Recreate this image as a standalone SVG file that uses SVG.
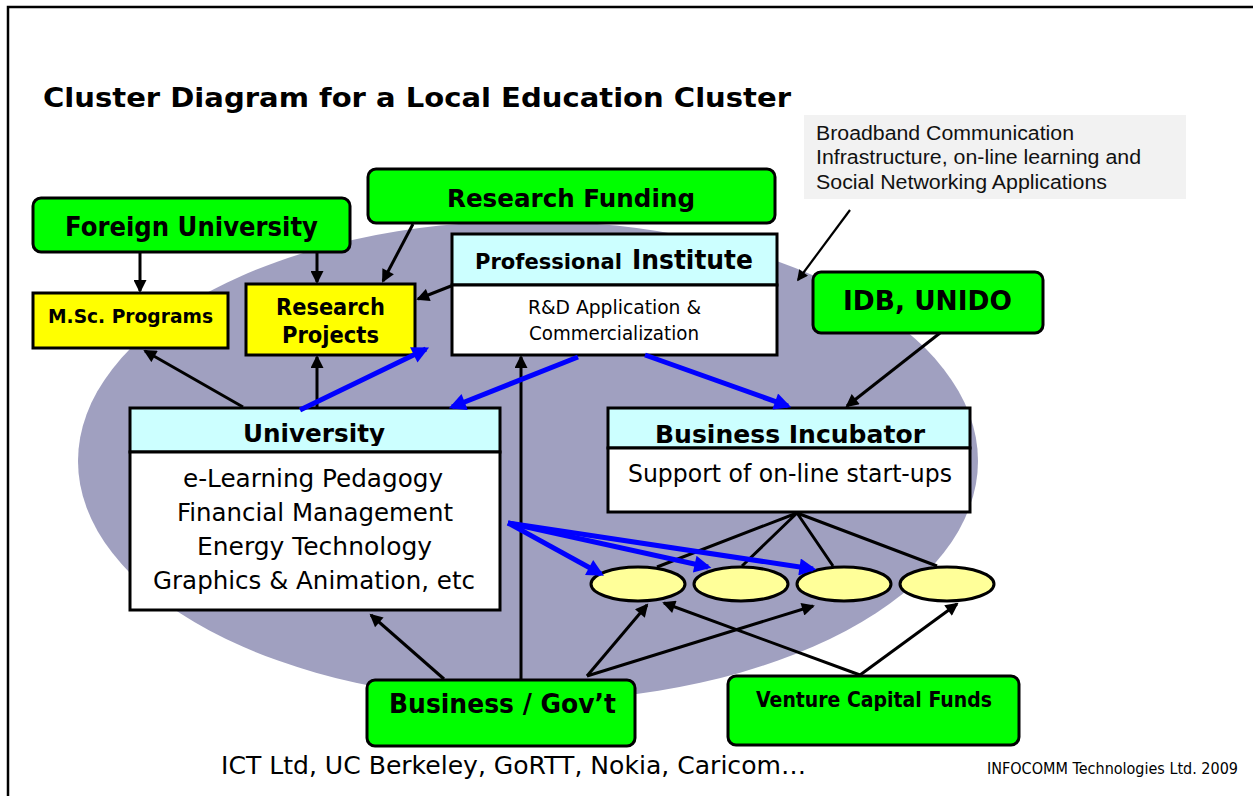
<svg xmlns="http://www.w3.org/2000/svg" width="1253" height="796" viewBox="0 0 1253 796">
  <style>
    .t { font-family: "DejaVu Sans", Verdana, sans-serif; fill: #000; }
    .b { font-weight: bold; }
    .note { font-family: "Liberation Sans", Arial, sans-serif; font-size: 20px; fill: #111; }
    .green { fill: #00FF00; stroke: #000; stroke-width: 3; }
    .yellow { fill: #FFFF00; stroke: #000; stroke-width: 3; }
    .head { fill: #CCFFFF; stroke: #000; stroke-width: 3; }
    .body { fill: #FFFFFF; stroke: #000; stroke-width: 3; }
    .pod { fill: #FFFF99; stroke: #000; stroke-width: 3; }
    .blk { stroke: #000; stroke-width: 3; fill: none; }
    .blu { stroke: #0000FF; stroke-width: 5; fill: none; }
  </style>
  <defs>
    <marker id="ah" viewBox="0 0 10 10" refX="8.5" refY="5" markerUnits="userSpaceOnUse" markerWidth="15" markerHeight="13" orient="auto">
      <path d="M0,0 L10,5 L0,10 z" fill="#000"/>
    </marker>
    <marker id="ahs" viewBox="0 0 10 10" refX="8.5" refY="5" markerUnits="userSpaceOnUse" markerWidth="13" markerHeight="11" orient="auto">
      <path d="M0,0 L10,5 L0,10 z" fill="#000"/>
    </marker>
    <marker id="ab" viewBox="0 0 10 10" refX="8" refY="5" markerUnits="userSpaceOnUse" markerWidth="20" markerHeight="17" orient="auto">
      <path d="M0,0 L10,5 L0,10 z" fill="#0000FF"/>
    </marker>
    <clipPath id="uniClip">
      <rect x="130" y="408" width="370" height="38"/>
    </clipPath>
  </defs>

  <!-- page frame -->
  <path d="M8,796 L8,7 L1253,7" fill="none" stroke="#000" stroke-width="2.5"/>

  <!-- cluster backdrop -->
  <ellipse cx="528" cy="461" rx="450" ry="240" fill="#A0A0C0"/>

  <text class="t b" x="43" y="107" font-size="27" textLength="748" lengthAdjust="spacingAndGlyphs">Cluster Diagram for a Local Education Cluster</text>

  <g id="broadband-note">
    <rect x="804" y="115" width="382" height="84" fill="#F2F2F2"/>
    <text class="note" x="816" y="140" textLength="258" lengthAdjust="spacingAndGlyphs">Broadband Communication</text>
    <text class="note" x="816" y="164" textLength="325" lengthAdjust="spacingAndGlyphs">Infrastructure, on-line learning and</text>
    <text class="note" x="816" y="189" textLength="291" lengthAdjust="spacingAndGlyphs">Social Networking Applications</text>
  </g>

  <g id="foreign-university">
    <rect class="green" x="33" y="198" width="317" height="54" rx="8"/>
    <text class="t b" x="65" y="236" font-size="26" textLength="253" lengthAdjust="spacingAndGlyphs">Foreign University</text>
  </g>

  <g id="research-funding">
    <rect class="green" x="368" y="169" width="407" height="54" rx="8"/>
    <text class="t b" x="447" y="207" font-size="25" textLength="248" lengthAdjust="spacingAndGlyphs">Research Funding</text>
  </g>

  <g id="msc-programs">
    <rect class="yellow" x="33" y="293" width="195" height="55"/>
    <text class="t b" x="48" y="323" font-size="19" textLength="165" lengthAdjust="spacingAndGlyphs">M.Sc. Programs</text>
  </g>

  <g id="research-projects">
    <rect class="yellow" x="246" y="284" width="169" height="71"/>
    <text class="t b" x="276" y="315" font-size="23" textLength="109" lengthAdjust="spacingAndGlyphs">Research</text>
    <text class="t b" x="282" y="343" font-size="23" textLength="97" lengthAdjust="spacingAndGlyphs">Projects</text>
  </g>

  <g id="professional-institute">
    <rect class="head" x="452" y="234" width="325" height="51"/>
    <rect class="body" x="452" y="285" width="325" height="70"/>
    <text class="t b" x="475" y="269" font-size="21" textLength="147" lengthAdjust="spacingAndGlyphs">Professional</text>
    <text class="t b" x="632" y="269" font-size="27" textLength="121" lengthAdjust="spacingAndGlyphs">Institute</text>
    <text class="t" x="528" y="314" font-size="20" textLength="173" lengthAdjust="spacingAndGlyphs">R&amp;D Application &amp;</text>
    <text class="t" x="529" y="340" font-size="20" textLength="170" lengthAdjust="spacingAndGlyphs">Commercialization</text>
  </g>

  <g id="idb-unido">
    <rect class="green" x="813" y="272" width="230" height="61" rx="8"/>
    <text class="t b" x="843" y="310" font-size="27" textLength="169" lengthAdjust="spacingAndGlyphs">IDB, UNIDO</text>
  </g>

  <g id="university">
    <rect class="head" x="130" y="408" width="370" height="44"/>
    <rect class="body" x="130" y="452" width="370" height="158"/>
    <text class="t b" x="243" y="442" font-size="25" textLength="142" lengthAdjust="spacingAndGlyphs" clip-path="url(#uniClip)">University</text>
    <text class="t" x="183" y="487" font-size="25" textLength="260" lengthAdjust="spacingAndGlyphs">e-Learning Pedagogy</text>
    <text class="t" x="177" y="521" font-size="25" textLength="276" lengthAdjust="spacingAndGlyphs">Financial Management</text>
    <text class="t" x="197" y="555" font-size="25" textLength="235" lengthAdjust="spacingAndGlyphs">Energy Technology</text>
    <text class="t" x="153" y="589" font-size="25" textLength="322" lengthAdjust="spacingAndGlyphs">Graphics &amp; Animation, etc</text>
  </g>

  <g id="business-incubator">
    <rect class="head" x="608" y="408" width="362" height="40"/>
    <rect class="body" x="608" y="448" width="362" height="64"/>
    <text class="t b" x="655" y="443" font-size="25" textLength="270" lengthAdjust="spacingAndGlyphs">Business Incubator</text>
    <text class="t" x="628" y="482" font-size="25" textLength="324" lengthAdjust="spacingAndGlyphs">Support of on-line start-ups</text>
  </g>

  <g id="startup-1"><ellipse class="pod" cx="638" cy="584" rx="47" ry="17"/></g>
  <g id="startup-2"><ellipse class="pod" cx="741" cy="584" rx="47" ry="17"/></g>
  <g id="startup-3"><ellipse class="pod" cx="844" cy="584" rx="47" ry="17"/></g>
  <g id="startup-4"><ellipse class="pod" cx="947" cy="584" rx="47" ry="17"/></g>

  <g id="business-gov">
    <rect class="green" x="367" y="680" width="268" height="66" rx="8"/>
    <text class="t b" x="389" y="713" font-size="26" textLength="227" lengthAdjust="spacingAndGlyphs">Business / Gov’t</text>
  </g>

  <g id="venture-capital">
    <rect class="green" x="728" y="676" width="291" height="69" rx="8"/>
    <text class="t b" x="756" y="707" font-size="21" textLength="236" lengthAdjust="spacingAndGlyphs">Venture Capital Funds</text>
  </g>

  <g id="connectors">
    <!-- black flows -->
    <line class="blk" x1="140" y1="252" x2="140" y2="291" marker-end="url(#ah)"/>
    <line class="blk" x1="317" y1="252" x2="317" y2="282" marker-end="url(#ah)"/>
    <line class="blk" x1="413" y1="224" x2="383" y2="281" marker-end="url(#ah)"/>
    <line class="blk" x1="451" y1="286" x2="418" y2="299" marker-end="url(#ah)"/>
    <line class="blk" x1="243" y1="407" x2="145" y2="351" marker-end="url(#ah)"/>
    <line class="blk" x1="317" y1="407" x2="317" y2="357" marker-end="url(#ah)"/>
    <line class="blk" x1="521" y1="679" x2="521" y2="357" marker-end="url(#ah)"/>
    <line class="blk" x1="444" y1="679" x2="371" y2="615" marker-end="url(#ah)"/>
    <line class="blk" x1="587" y1="676" x2="647" y2="605" marker-end="url(#ah)"/>
    <line class="blk" x1="587" y1="676" x2="813" y2="606" marker-end="url(#ah)"/>
    <line class="blk" x1="860" y1="675" x2="664" y2="603" marker-end="url(#ah)"/>
    <line class="blk" x1="860" y1="675" x2="957" y2="604" marker-end="url(#ah)"/>
    <line class="blk" x1="940" y1="333" x2="847" y2="406" marker-end="url(#ah)"/>
    <line x1="850" y1="210" x2="798" y2="280" stroke="#000" stroke-width="2.2" marker-end="url(#ahs)"/>
    <!-- incubator to start-ups -->
    <path class="blk" d="M797,513 L657,567 M797,513 L742,566 M797,513 L833,566 M797,513 L937,566"/>
    <!-- blue flows -->
    <line class="blu" x1="300" y1="410" x2="426" y2="349" marker-end="url(#ab)"/>
    <line class="blu" x1="578" y1="357" x2="452" y2="407" marker-end="url(#ab)"/>
    <line class="blu" x1="645" y1="355" x2="788" y2="406" marker-end="url(#ab)"/>
    <line class="blu" x1="508" y1="523" x2="601" y2="574" marker-end="url(#ab)"/>
    <line class="blu" x1="508" y1="523" x2="708" y2="567" marker-end="url(#ab)"/>
    <line class="blu" x1="508" y1="523" x2="813" y2="569" marker-end="url(#ab)"/>
  </g>

  <text class="t" x="221" y="774" font-size="25" textLength="585" lengthAdjust="spacingAndGlyphs">ICT Ltd, UC Berkeley, GoRTT, Nokia, Caricom…</text>
  <text class="t" x="987" y="774" font-size="16" textLength="251" lengthAdjust="spacingAndGlyphs">INFOCOMM Technologies Ltd. 2009</text>
</svg>
